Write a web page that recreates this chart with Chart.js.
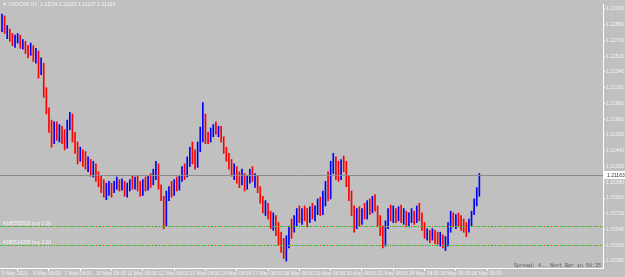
<!DOCTYPE html>
<html><head><meta charset="utf-8">
<script src="https://cdn.jsdelivr.net/npm/chart.js@4"></script>
<style>html,body{margin:0;padding:0;background:#c0c0c0;overflow:hidden}#wrap{width:625px;height:277px;position:relative}</style>
</head><body><div id="wrap"><canvas id="c"></canvas></div>
<script>
const symbolTitle = '\u25BC USDCAD,H1  1.21154 1.21163 1.21137 1.21163';
const spreadText = 'Spread: 4.. Next Bar in 58:35';
const tickLabels = ['5 May 2021','6 May 08:00','7 May 08:00','10 May 08:00','11 May 08:00','12 May 08:00','13 May 08:00','14 May 08:00','17 May 08:00','18 May 08:00','19 May 08:00','20 May 08:00','21 May 08:00','24 May 08:00','25 May 08:00','26 May 08:00'];
const tickHours = [0,24,48,72,96,120,144,168,192,216,240,264,288,312,336,360];
const yTicks = [1.23060,1.22880,1.22700,1.22520,1.22340,1.22160,1.21980,1.21800,1.21620,1.21440,1.21260,1.21080,1.20900,1.20720,1.20540,1.20360,1.20180];
const currentPrice = 1.21163;
const orderLevels = [1.2058, 1.2036];
const orderLabels = ['#186555928 buy 2.00', '#186514298 buy 2.00'];
const barHoursStep = 2;

const highs = [1.2300,1.2298,1.2287,1.2283,1.2278,1.2276,1.2278,1.2276,1.2271,1.2269,
1.2264,1.2267,1.2264,1.2261,1.2258,1.2250,1.2244,1.2216,1.2193,1.2179,
1.2177,1.2177,1.2174,1.2172,1.2168,1.2179,1.2188,1.2186,1.2165,1.2154,
1.2148,1.2145,1.2143,1.2137,1.2134,1.2132,1.2129,1.2120,1.2115,1.2111,
1.2107,1.2109,1.2107,1.2109,1.2114,1.2111,1.2112,1.2109,1.2107,1.2111,
1.2115,1.2114,1.2116,1.2109,1.2111,1.2114,1.2115,1.2118,1.2123,1.2132,
1.2129,1.2105,1.2092,1.2098,1.2103,1.2109,1.2111,1.2114,1.2116,1.2126,
1.2129,1.2137,1.2148,1.2154,1.2145,1.2154,1.2171,1.2199,1.2186,1.2165,
1.2170,1.2174,1.2177,1.2172,1.2172,1.2160,1.2148,1.2141,1.2134,1.2129,
1.2126,1.2120,1.2123,1.2118,1.2116,1.2123,1.2126,1.2118,1.2116,1.2103,
1.2092,1.2087,1.2084,1.2075,1.2073,1.2070,1.2062,1.2051,1.2044,1.2047,
1.2058,1.2066,1.2070,1.2078,1.2081,1.2078,1.2081,1.2078,1.2080,1.2084,
1.2081,1.2089,1.2091,1.2098,1.2109,1.2120,1.2132,1.2141,1.2137,1.2132,
1.2134,1.2138,1.2132,1.2115,1.2098,1.2081,1.2078,1.2080,1.2078,1.2084,
1.2087,1.2089,1.2092,1.2094,1.2081,1.2070,1.2058,1.2064,1.2078,1.2082,
1.2081,1.2078,1.2080,1.2082,1.2078,1.2075,1.2073,1.2078,1.2075,1.2081,
1.2084,1.2073,1.2062,1.2055,1.2053,1.2055,1.2053,1.2051,1.2051,1.2048,
1.2046,1.2062,1.2075,1.2073,1.2071,1.2073,1.2070,1.2066,1.2062,1.2066,
1.2075,1.2089,1.2102,1.2118];

const lows = [1.2280,1.2278,1.2272,1.2269,1.2264,1.2262,1.2267,1.2261,1.2260,1.2255,
1.2250,1.2253,1.2246,1.2244,1.2227,1.2231,1.2205,1.2186,1.2165,1.2148,
1.2152,1.2156,1.2154,1.2152,1.2145,1.2147,1.2168,1.2154,1.2141,1.2129,
1.2132,1.2126,1.2123,1.2120,1.2115,1.2114,1.2109,1.2103,1.2096,1.2091,
1.2088,1.2093,1.2091,1.2096,1.2100,1.2098,1.2099,1.2092,1.2091,1.2098,
1.2100,1.2100,1.2098,1.2092,1.2093,1.2098,1.2099,1.2102,1.2105,1.2111,
1.2100,1.2087,1.2055,1.2058,1.2087,1.2091,1.2093,1.2098,1.2099,1.2109,
1.2111,1.2114,1.2126,1.2129,1.2123,1.2125,1.2143,1.2154,1.2152,1.2152,
1.2154,1.2160,1.2163,1.2160,1.2154,1.2141,1.2132,1.2123,1.2115,1.2111,
1.2107,1.2102,1.2105,1.2098,1.2100,1.2107,1.2109,1.2102,1.2096,1.2084,
1.2073,1.2070,1.2066,1.2055,1.2053,1.2047,1.2036,1.2028,1.2021,1.2018,
1.2033,1.2044,1.2051,1.2058,1.2062,1.2060,1.2064,1.2057,1.2062,1.2066,
1.2064,1.2071,1.2070,1.2071,1.2081,1.2087,1.2089,1.2118,1.2111,1.2109,
1.2111,1.2120,1.2103,1.2087,1.2070,1.2051,1.2055,1.2058,1.2060,1.2066,
1.2066,1.2071,1.2073,1.2075,1.2058,1.2047,1.2033,1.2035,1.2055,1.2064,
1.2062,1.2062,1.2064,1.2062,1.2060,1.2057,1.2057,1.2062,1.2060,1.2062,
1.2064,1.2053,1.2044,1.2042,1.2039,1.2042,1.2038,1.2037,1.2035,1.2033,
1.2030,1.2035,1.2051,1.2057,1.2055,1.2057,1.2053,1.2051,1.2046,1.2051,
1.2058,1.2071,1.2081,1.2092];

const closes = [1.2295,1.2280,1.2283,1.2271,1.2267,1.2273,1.2276,1.2264,1.2269,1.2258,
1.2253,1.2262,1.2250,1.2258,1.2233,1.2244,1.2208,1.2188,1.2171,1.2154,
1.2171,1.2163,1.2170,1.2156,1.2148,1.2177,1.2182,1.2160,1.2143,1.2134,
1.2143,1.2132,1.2126,1.2134,1.2118,1.2126,1.2111,1.2106,1.2098,1.2093,
1.2102,1.2106,1.2096,1.2107,1.2110,1.2100,1.2109,1.2094,1.2103,1.2109,
1.2102,1.2111,1.2100,1.2096,1.2108,1.2100,1.2112,1.2105,1.2120,1.2128,
1.2102,1.2089,1.2062,1.2096,1.2101,1.2093,1.2109,1.2100,1.2114,1.2123,
1.2115,1.2134,1.2145,1.2132,1.2126,1.2152,1.2168,1.2177,1.2156,1.2155,
1.2168,1.2171,1.2167,1.2170,1.2156,1.2143,1.2134,1.2126,1.2118,1.2126,
1.2109,1.2106,1.2118,1.2102,1.2114,1.2120,1.2111,1.2116,1.2098,1.2087,
1.2075,1.2083,1.2069,1.2058,1.2070,1.2051,1.2042,1.2030,1.2025,1.2044,
1.2055,1.2048,1.2066,1.2075,1.2065,1.2074,1.2068,1.2061,1.2078,1.2070,
1.2079,1.2087,1.2073,1.2094,1.2105,1.2091,1.2127,1.2136,1.2115,1.2111,
1.2132,1.2123,1.2106,1.2090,1.2073,1.2058,1.2074,1.2062,1.2075,1.2070,
1.2083,1.2073,1.2089,1.2078,1.2062,1.2051,1.2037,1.2061,1.2074,1.2066,
1.2079,1.2064,1.2078,1.2065,1.2075,1.2060,1.2071,1.2075,1.2062,1.2079,
1.2068,1.2055,1.2047,1.2052,1.2042,1.2053,1.2040,1.2039,1.2048,1.2035,
1.2044,1.2058,1.2071,1.2061,1.2069,1.2060,1.2055,1.2053,1.2050,1.2064,
1.2073,1.2085,1.2098,1.2116];

const UP = '#0000ff', DOWN = '#ff0000';
const barData = highs.map((h, i) => ({ x: i * barHoursStep, y: [lows[i], h] }));
const barColors = closes.map((c, i) => {
  const prev = i === 0 ? (highs[0] + lows[0]) / 2 : closes[i - 1];
  return c >= prev ? UP : DOWN;
});

const overlay = {
  id: 'overlay',
  afterDatasetsDraw(chart) {
    const ctx = chart.ctx, ys = chart.scales.y, a = chart.chartArea;
    ctx.save();
    const py = Math.round(ys.getPixelForValue(currentPrice)) + 0.5;
    ctx.strokeStyle = '#8c8c8c'; ctx.lineWidth = 1; ctx.setLineDash([]);
    ctx.beginPath(); ctx.moveTo(a.left, py); ctx.lineTo(a.right, py); ctx.stroke();
    orderLevels.forEach((lv, k) => {
      const oy = Math.round(ys.getPixelForValue(lv)) + 0.5;
      ctx.lineWidth = 1;
      ctx.strokeStyle = '#33cc33'; ctx.setLineDash([4, 3]); ctx.lineDashOffset = 0;
      ctx.beginPath(); ctx.moveTo(a.left, oy); ctx.lineTo(a.right, oy); ctx.stroke();
      ctx.strokeStyle = '#ff3333'; ctx.setLineDash([1, 6]); ctx.lineDashOffset = -5;
      ctx.beginPath(); ctx.moveTo(a.left, oy); ctx.lineTo(a.right, oy); ctx.stroke();
      ctx.setLineDash([]);
      ctx.fillStyle = '#f4f4f4'; ctx.font = '5px "Liberation Sans"';
      ctx.textBaseline = 'bottom'; ctx.textAlign = 'left';
      ctx.fillText(orderLabels[k], a.left + 3, oy - 0.5);
    });
    ctx.fillStyle = '#f4f4f4'; ctx.font = '5px "Liberation Sans"';
    ctx.textBaseline = 'middle'; ctx.textAlign = 'left';
    ctx.fillText(symbolTitle, a.left + 2, 5);
    ctx.fillStyle = '#555555'; ctx.font = '5px "Liberation Mono"';
    ctx.textAlign = 'right'; ctx.textBaseline = 'middle';
    ctx.fillText(spreadText, a.right - 2, 266);
    ctx.fillStyle = '#ffffff';
    ctx.fillRect(a.right + 1, py - 4.5, 21, 8);
    ctx.fillStyle = '#333333'; ctx.font = '5px "Liberation Sans"';
    ctx.textAlign = 'left'; ctx.textBaseline = 'middle';
    ctx.fillText(currentPrice.toFixed(5), a.right + 4, py);
    ctx.restore();
  }
};

new Chart(document.getElementById('c'), {
  type: 'bar',
  data: { datasets: [{ data: barData, backgroundColor: barColors, barThickness: 1, borderWidth: 0, grouped: false }] },
  options: {
    responsive: true, maintainAspectRatio: false, animation: false,
    layout: { padding: 0 },
    plugins: { legend: { display: false }, tooltip: { enabled: false } },
    scales: {
      x: {
        type: 'linear', offset: false, min: -1.53, max: 460.8,
        afterBuildTicks: s => { s.ticks = tickHours.map(v => ({ value: v })); },
        afterFit: s => { s.height = 9; },
        ticks: { autoSkip: false, maxRotation: 0, minRotation: 0, align: 'start', padding: 0,
          color: '#f2f2f2', font: { size: 5, family: 'Liberation Sans' },
          callback: (v, i) => tickLabels[i] },
        grid: { display: true, drawOnChartArea: false, drawTicks: true, tickLength: 3, color: '#ffffff' },
        border: { display: true, color: '#ffffff', width: 1 }
      },
      y: {
        position: 'right', min: 1.20101, max: 1.23116,
        afterBuildTicks: s => { s.ticks = yTicks.map(v => ({ value: v })); },
        afterFit: s => { s.width = 22; },
        ticks: { autoSkip: false, padding: 1, color: '#f2f2f2', font: { size: 5, family: 'Liberation Sans' },
          callback: v => Number(v).toFixed(5) },
        grid: { display: true, drawOnChartArea: false, drawTicks: true, tickLength: 2, color: '#ffffff' },
        border: { display: true, color: '#ffffff', width: 1 }
      }
    }
  },
  plugins: [overlay]
});
</script></body></html>
